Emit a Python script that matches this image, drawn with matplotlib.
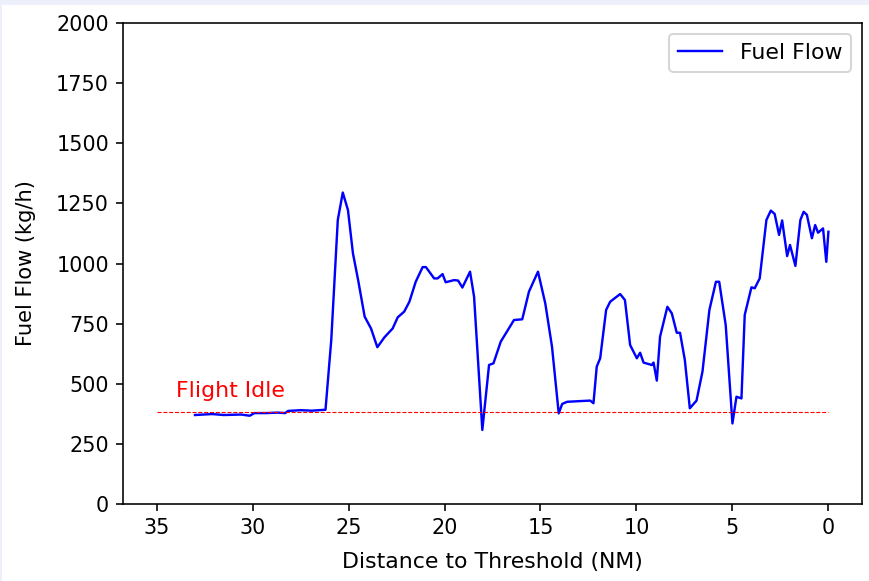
import matplotlib
matplotlib.use("Agg")
import matplotlib.pyplot as plt
from matplotlib.patches import Rectangle

# Distance to threshold (NM) and fuel flow (kg/h) along the approach
distance_nm = [33.0, 32.1, 31.5, 30.6, 30.15, 29.9, 29.3, 28.7, 28.3, 28.15, 27.5, 26.9,
               26.2, 25.9, 25.56, 25.3, 25.03, 24.77, 24.5, 24.16, 23.83, 23.5, 23.13,
               22.7, 22.44, 22.1, 21.83, 21.5, 21.14, 20.97, 20.54, 20.36, 20.1, 19.94,
               19.5, 19.29, 19.07, 18.67, 18.46, 18.03, 17.68, 17.45, 17.07, 16.38, 15.95,
               15.6, 15.13, 14.75, 14.4, 14.05, 13.87, 13.61, 12.41, 12.24, 12.07, 11.89,
               11.58, 11.37, 10.85, 10.6, 10.33, 9.98, 9.81, 9.63, 9.2, 9.11, 8.94, 8.77,
               8.39, 8.16, 7.9, 7.73, 7.48, 7.22, 6.87, 6.56, 6.2, 5.86, 5.69, 5.35, 5.0,
               4.79, 4.53, 4.36, 4.01, 3.84, 3.58, 3.23, 3.0, 2.8, 2.57, 2.41, 2.15, 2.0,
               1.72, 1.46, 1.29, 1.12, 0.86, 0.69, 0.54, 0.28, 0.11, 0.0]
fuel_flow = [370, 374, 370, 372, 367, 378, 378, 380, 378, 387, 390, 388,
             392, 682, 1181, 1295, 1222, 1042, 931, 779, 730, 652, 693,
             730, 776, 800, 841, 924, 985, 985, 938, 938, 956, 922,
             931, 929, 900, 966, 862, 308, 578, 585, 675, 765, 768,
             883, 966, 834, 654, 377, 416, 425, 430, 419, 571, 606,
             807, 841, 873, 848, 661, 606, 629, 588, 578, 588, 513, 696,
             820, 793, 712, 712, 599, 398, 430, 551, 807, 924, 924, 744, 335,
             446, 439, 786, 901, 897, 938, 1181, 1220, 1206, 1119, 1179, 1031, 1077,
             990, 1181, 1215, 1202, 1105, 1160, 1128, 1146, 1007, 1132]

idle_range = [35, 0]
idle_level = 382
y_ticks = [0, 250, 500, 750, 1000, 1250, 1500, 1750, 2000]

fig = plt.figure(figsize=(869 / 144, 581 / 144), dpi=144, facecolor="#edf0fb")
# white page inside a thin pale frame along the top and left edges
fig.patches.append(Rectangle((2 / 869, 0), 1, 1 - 5 / 581, transform=fig.transFigure,
                             facecolor="white", edgecolor="none", zorder=-10))
ax = fig.add_axes([123 / 869, 77 / 581, 739 / 869, 481 / 581])

ax.plot(distance_nm, fuel_flow, color="blue", lw=1.2, label="Fuel Flow")
ax.plot(idle_range, [idle_level, idle_level], color="red", lw=0.55, ls="--")
ax.text(34, 445, "Flight Idle", color="red", fontsize=11)

ax.set_ylim(0, 2000)
ax.set_yticks(y_ticks)
ax.invert_xaxis()
ax.tick_params(labelsize=10.4)
ax.set_xlabel("Distance to Threshold (NM)", fontsize=11, labelpad=7)
ax.set_ylabel("Fuel Flow (kg/h)", fontsize=10.5, labelpad=10)
ax.legend(loc="upper right", fontsize=11)

fig.savefig("out.png", dpi=144, facecolor=fig.get_facecolor())
